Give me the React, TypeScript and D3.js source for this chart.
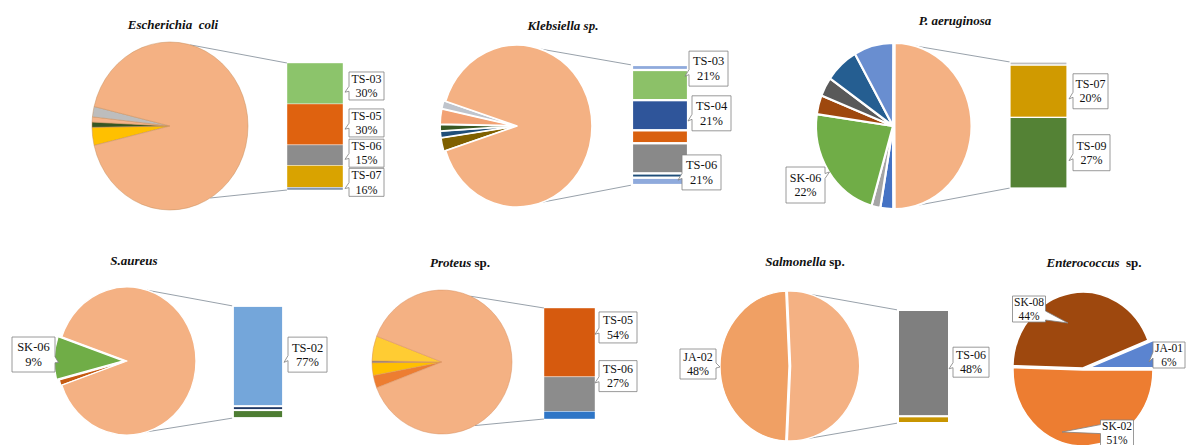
import React, { useEffect } from 'react';
import * as d3 from 'd3';

// ---------------- DATA ----------------
// Escherichia coli (pie slices listed clockwise from lower-left; bar top to bottom)
const ecoliOtherNames = ['', '', '', ''];
const ecoliOtherValues = [3.5, 1, 1, 2];
const ecoliBarNames = ['TS-03', 'TS-05', 'TS-06', 'TS-07', ''];
const ecoliBarValues = [30, 30, 15, 16, 2];

// Klebsiella sp.
const klebOtherNames = ['', '', '', '', ''];
const klebOtherValues = [2.5, 1.2, 1.2, 2.8, 1.5];
const klebBarNames = ['', 'TS-03', 'TS-04', '', 'TS-06', '', ''];
const klebBarValues = [3.5, 21, 21, 9, 21, 3, 5];

// P. aeruginosa
const paerOtherNames = ['', '', 'SK-06', '', '', '', ''];
const paerOtherValues = [2.6, 1.8, 22, 3.6, 3.6, 6.8, 8];
const paerBarNames = ['', 'TS-07', 'TS-09'];
const paerBarValues = [1.2, 20, 27];

// S. aureus
const saurOtherNames = ['', 'SK-06'];
const saurOtherValues = [1.2, 9];
const saurBarNames = ['TS-02', '', ''];
const saurBarValues = [77, 3, 6];

// Proteus sp.
const protOtherNames = ['', '', '', ''];
const protOtherValues = [2.8, 2.8, 0.4, 5.5];
const protBarNames = ['TS-05', 'TS-06', ''];
const protBarValues = [54, 27, 6];

// Salmonella sp.
const salmOtherNames = ['JA-02'];
const salmOtherValues = [48];
const salmBarNames = ['TS-06', ''];
const salmBarValues = [48, 3];

// Enterococcus sp.
const entNames = ['JA-01', 'SK-02', 'SK-08'];
const entValues = [6, 51, 44];

// ---------------- STYLES ----------------
const PEACH = '#F4B183';
const ecoliOtherColors = ['#FFC000', '#375623', '#F5B48A', '#BDBDBD'];
const ecoliBarColors = ['#8CC46B', '#DF620F', '#8C8C8C', '#D9A300', '#8497B0'];
const klebOtherColors = ['#7F6000', '#1F4E79', '#385723', '#F2A274', '#BFC4CC'];
const klebBarColors = ['#8FAADC', '#8CC168', '#2F559A', '#D9600F', '#898989', '#1F4E79', '#8FAADC'];
const paerOtherColors = ['#4472C4', '#A5A5A5', '#70AD47', '#9E480E', '#595959', '#255E91', '#698ED0'];
const paerBarColors = ['#BFBFBF', '#D09A00', '#548235'];
const saurOtherColors = ['#C55A11', '#70AD47'];
const saurBarColors = ['#74A6DA', '#203864', '#4E7D33'];
const protOtherColors = ['#ED7D31', '#FFC000', '#7F7F7F', '#FFCC33'];
const protBarColors = ['#D65A0E', '#8C8C8C', '#2E75C6'];
const salmOtherColors = ['#F0A064'];
const salmBarColors = ['#7F7F7F', '#C89500'];
const entColors = ['#5B84D0', '#ED7D31', '#9E480E'];

const SERIF = '"Liberation Serif", "Times New Roman", "DejaVu Serif", serif';

// ---------------- HELPERS ----------------
type Side = 'left' | 'right';

function calloutPath(x: number, y: number, w: number, h: number, side: Side, tx: number, ty: number, bp: number, bw: number) {
  const b0 = y + h * bp - bw / 2;
  const b1 = y + h * bp + bw / 2;
  if (side === 'left') {
    return `M${x},${y}H${x + w}V${y + h}H${x}V${b1}L${tx},${ty}L${x},${b0}Z`;
  }
  return `M${x},${y}H${x + w}V${b0}L${tx},${ty}L${x + w},${b1}V${y + h}H${x}Z`;
}

function Callout(props: {
  cx: number; cy: number; w: number; h: number; lines: string[]; fs: number;
  side: Side; tdx: number; tdy: number; bp: number; bw: number;
}) {
  const { cx, cy, w, h, lines, fs, side, tdx, tdy, bp, bw } = props;
  const x = cx - w / 2;
  const y = cy - h / 2;
  const d = calloutPath(x, y, w, h, side, cx + tdx, cy + tdy, bp, bw);
  const lh = fs * 1.18;
  return (
    <g>
      <path d={d} fill="#ffffff" stroke="#808080" strokeWidth={0.8} />
      {lines.map((t, i) => (
        <text key={i} x={cx} y={cy + (i - (lines.length - 1) / 2) * lh + fs * 0.34}
          textAnchor="middle" style={{ fontFamily: SERIF, fontSize: fs }} fill="#111">{t}</text>
      ))}
    </g>
  );
}

function Title({ x, y, parts }: { x: number; y: number; parts: [string, boolean][] }) {
  return (
    <text x={x} y={y} textAnchor="middle" fill="#111"
      style={{ fontFamily: SERIF, fontWeight: 'bold', fontSize: 13, whiteSpace: 'pre' }}>
      {parts.map(([t, it], i) => (
        <tspan key={i} style={{ fontStyle: it ? 'italic' : 'normal' }}>{t}</tspan>
      ))}
    </text>
  );
}

type PieLabel = { index: number; dx: number; dy: number; w: number; h: number; side: Side; tdx: number; tdy: number; bp: number; bw: number };
type BarLabel = { index: number; dx: number; dy: number; w: number; h: number };

type PoB = {
  title: [string, boolean][]; tx: number; ty: number;
  cx: number; cy: number; rx: number; ry: number;
  otherNames: string[]; otherValues: number[]; otherColors: string[]; otherExplode: number[];
  mainExplode: number;
  sliceStroke: string; sliceStrokeW: number;
  pieLabels: PieLabel[];
  barNames: string[]; barValues: number[]; barColors: string[];
  bx: number; bw: number; by0: number; by1: number; barStroke: string; barStrokeW: number;
  barLabels: BarLabel[];
  lineAngles: [number, number];
  fs: number;
};

type Item = { v: number; color: string; explode: number };

function PieOfBar({ p }: { p: PoB }) {
  const othersSum = d3.sum(p.otherValues);
  const mainValue = d3.sum(p.barValues);
  const total = othersSum + mainValue;
  const S = (othersSum / total) * 2 * Math.PI;
  const start = 1.5 * Math.PI - S / 2;
  const items: Item[] = [
    ...p.otherValues.map((v, i) => ({ v, color: p.otherColors[i], explode: p.otherExplode[i] || 0 })),
    { v: mainValue, color: PEACH, explode: p.mainExplode },
  ];
  const arcs = d3.pie<Item>().value((d) => d.v).sort(null).startAngle(start).endAngle(start + 2 * Math.PI)(items);
  const arcGen = d3.arc<d3.PieArcDatum<Item>>().innerRadius(0).outerRadius(p.ry);
  const k = p.rx / p.ry;

  const yScale = d3.scaleLinear().domain([0, mainValue]).range([p.by0, p.by1]);
  let acc = 0;
  const segs = p.barValues.map((v, i) => {
    const s = { y0: yScale(acc), y1: yScale(acc + v), color: p.barColors[i] };
    acc += v;
    return s;
  });

  const mainArc = arcs[arcs.length - 1];
  const mainMid = (mainArc.startAngle + mainArc.endAngle) / 2;
  const mox = p.mainExplode * Math.sin(mainMid) * k;
  const moy = -p.mainExplode * Math.cos(mainMid);
  const pt = (deg: number) => {
    const a = (deg * Math.PI) / 180;
    return [p.cx + p.rx * Math.sin(a) + mox, p.cy - p.ry * Math.cos(a) + moy];
  };
  const [t1, t2] = [pt(p.lineAngles[0]), pt(p.lineAngles[1])];

  return (
    <g>
      <Title x={p.tx} y={p.ty} parts={p.title} />
      <line x1={t1[0]} y1={t1[1]} x2={p.bx} y2={p.by0} stroke="#8c96a0" strokeWidth={0.9} />
      <line x1={t2[0]} y1={t2[1]} x2={p.bx} y2={p.by1} stroke="#8c96a0" strokeWidth={0.9} />
      <g transform={`translate(${p.cx},${p.cy}) scale(${k},1)`}>
        {arcs.map((a, i) => {
          const mid = (a.startAngle + a.endAngle) / 2;
          const e = a.data.explode;
          return (
            <path key={i} d={arcGen(a) || ''} fill={a.data.color}
              transform={`translate(${e * Math.sin(mid)},${-e * Math.cos(mid)})`}
              stroke={p.sliceStroke} strokeWidth={p.sliceStrokeW} vectorEffect="non-scaling-stroke"
              strokeLinejoin="round" />
          );
        })}
      </g>
      {segs.map((s, i) => (
        <rect key={i} x={p.bx} y={s.y0} width={p.bw} height={Math.max(0, s.y1 - s.y0)} fill={s.color}
          stroke={p.barStroke} strokeWidth={p.barStrokeW} />
      ))}
      {p.barLabels.map((l, i) => {
        const s = segs[l.index];
        const cy = (s.y0 + s.y1) / 2 + l.dy;
        const cx = p.bx + p.bw + l.dx + l.w / 2;
        return (
          <Callout key={i} cx={cx} cy={cy} w={l.w} h={l.h} fs={p.fs}
            lines={[p.barNames[l.index], `${p.barValues[l.index]}%`]}
            side="left" tdx={-l.w / 2 - 4} tdy={l.h * 0.22} bp={0.6} bw={5} />
        );
      })}
      {p.pieLabels.map((l, i) => (
        <Callout key={i} cx={p.cx + l.dx} cy={p.cy + l.dy} w={l.w} h={l.h} fs={p.fs}
          lines={[p.otherNames[l.index], `${p.otherValues[l.index]}%`]}
          side={l.side} tdx={l.tdx} tdy={l.tdy} bp={l.bp} bw={l.bw} />
      ))}
    </g>
  );
}

// ---------------- LAYOUT ----------------
const panels: PoB[] = [
  {
    title: [['Escherichia  coli', true]], tx: 173, ty: 29,
    cx: 170, cy: 126, rx: 78, ry: 84,
    otherNames: ecoliOtherNames, otherValues: ecoliOtherValues, otherColors: ecoliOtherColors, otherExplode: [0, 0, 0, 0],
    mainExplode: 0, sliceStroke: '#c8905f', sliceStrokeW: 0.5, pieLabels: [],
    barNames: ecoliBarNames, barValues: ecoliBarValues, barColors: ecoliBarColors,
    bx: 287, bw: 56, by0: 63, by1: 190, barStroke: '#ffffff', barStrokeW: 0.4,
    barLabels: [
      { index: 0, dx: 6, dy: 2.5, w: 35, h: 28 },
      { index: 1, dx: 6, dy: -1.5, w: 35, h: 28 },
      { index: 2, dx: 6, dy: -2, w: 35, h: 28 },
      { index: 3, dx: 6, dy: 6, w: 35, h: 28 },
    ],
    lineAngles: [15, 149], fs: 12,
  },
  {
    title: [['Klebsiella sp.', true]], tx: 563, ty: 30,
    cx: 517, cy: 126, rx: 75, ry: 81,
    otherNames: klebOtherNames, otherValues: klebOtherValues, otherColors: klebOtherColors, otherExplode: [2, 2, 2, 2, 2],
    mainExplode: 0, sliceStroke: '#ffffff', sliceStrokeW: 1.6, pieLabels: [],
    barNames: klebBarNames, barValues: klebBarValues, barColors: klebBarColors,
    bx: 632, bw: 56, by0: 65, by1: 185, barStroke: '#ffffff', barStrokeW: 2.2,
    barLabels: [
      { index: 1, dx: 1, dy: -16.5, w: 39, h: 35 },
      { index: 2, dx: 4, dy: -2, w: 39, h: 35 },
      { index: 4, dx: -6, dy: 14, w: 39, h: 35 },
    ],
    lineAngles: [18, 160], fs: 12.5,
  },
  {
    title: [['P. aeruginosa', true]], tx: 955, ty: 25,
    cx: 893, cy: 126, rx: 77, ry: 83,
    otherNames: paerOtherNames, otherValues: paerOtherValues, otherColors: paerOtherColors, otherExplode: [0, 0, 0, 0, 0, 0, 0],
    mainExplode: 1.5, sliceStroke: '#ffffff', sliceStrokeW: 2.2,
    pieLabels: [{ index: 2, dx: -87.5, dy: 59, w: 39, h: 36, side: 'right', tdx: 24, tdy: -13, bp: 0.25, bw: 5 }],
    barNames: paerBarNames, barValues: paerBarValues, barColors: paerBarColors,
    bx: 1010, bw: 57, by0: 62, by1: 188, barStroke: '#ffffff', barStrokeW: 1.2,
    barLabels: [
      { index: 1, dx: 6, dy: 0, w: 35, h: 35 },
      { index: 2, dx: 6, dy: 0, w: 37, h: 36 },
    ],
    lineAngles: [3, 177], fs: 12,
  },
  {
    title: [['S.aureus', true]], tx: 134, ty: 265,
    cx: 127, cy: 361, rx: 69, ry: 74,
    otherNames: saurOtherNames, otherValues: saurOtherValues, otherColors: saurOtherColors, otherExplode: [1, 4],
    mainExplode: 0, sliceStroke: '#ffffff', sliceStrokeW: 1.3,
    pieLabels: [{ index: 1, dx: -93.5, dy: -6.5, w: 43, h: 35, side: 'right', tdx: 25, tdy: 8, bp: 0.65, bw: 6 }],
    barNames: saurBarNames, barValues: saurBarValues, barColors: saurBarColors,
    bx: 233, bw: 50, by0: 306, by1: 418, barStroke: '#ffffff', barStrokeW: 1.8,
    barLabels: [{ index: 0, dx: 5, dy: -1.5, w: 39, h: 35 }],
    lineAngles: [17, 163], fs: 12.5,
  },
  {
    title: [['Proteus', true], [' sp.', false]], tx: 460, ty: 267,
    cx: 442, cy: 362, rx: 70, ry: 72,
    otherNames: protOtherNames, otherValues: protOtherValues, otherColors: protOtherColors, otherExplode: [0, 0, 0, 0],
    mainExplode: 0, sliceStroke: '#d89060', sliceStrokeW: 0.5, pieLabels: [],
    barNames: protBarNames, barValues: protBarValues, barColors: protBarColors,
    bx: 544, bw: 51, by0: 308, by1: 419, barStroke: '#ffffff', barStrokeW: 0.4,
    barLabels: [
      { index: 0, dx: 4, dy: -15, w: 38, h: 31 },
      { index: 1, dx: 4, dy: -18, w: 38, h: 31 },
    ],
    lineAngles: [24, 152], fs: 12,
  },
  {
    title: [['Salmonella', true], [' sp.', false]], tx: 805, ty: 266,
    cx: 789, cy: 366, rx: 69, ry: 75,
    otherNames: salmOtherNames, otherValues: salmOtherValues, otherColors: salmOtherColors, otherExplode: [0],
    mainExplode: 1.8, sliceStroke: '#ffffff', sliceStrokeW: 1.3,
    pieLabels: [{ index: 0, dx: -91, dy: -2, w: 36, h: 30, side: 'right', tdx: 22, tdy: 3, bp: 0.55, bw: 5 }],
    barNames: salmBarNames, barValues: salmBarValues, barColors: salmBarColors,
    bx: 898, bw: 51, by0: 310, by1: 423, barStroke: '#ffffff', barStrokeW: 2,
    barLabels: [{ index: 0, dx: 4, dy: -1, w: 36, h: 30 }],
    lineAngles: [18, 165], fs: 12,
  },
];

// Enterococcus layout
const ent = { tx: 1094, ty: 267, cx: 1083, cy: 369, rx: 70, ry: 76, explode: [6, 1, 1] };
const entLabels = [
  { index: 0, dx: 86, dy: -14, w: 32, h: 26, side: 'left' as Side, tdx: -20, tdy: 7, bp: 0.5, bw: 6 },
  { index: 1, dx: 34, dy: 64, w: 33, h: 26, side: 'left' as Side, tdx: -55, tdy: -1, bp: 0.35, bw: 9 },
  { index: 2, dx: -54, dy: -60, w: 33, h: 26, side: 'right' as Side, tdx: 39, tdy: 14, bp: 0.75, bw: 9 },
];

function EnterococcusPie() {
  const total = d3.sum(entValues);
  const start = Math.PI / 2 - (entValues[0] / total) * 2 * Math.PI;
  const items = entValues.map((v, i) => ({ v, color: entColors[i], explode: ent.explode[i] }));
  const arcs = d3.pie<Item>().value((d) => d.v).sort(null).startAngle(start).endAngle(start + 2 * Math.PI)(items);
  const arcGen = d3.arc<d3.PieArcDatum<Item>>().innerRadius(0).outerRadius(ent.ry);
  const k = ent.rx / ent.ry;
  return (
    <g>
      <Title x={ent.tx} y={ent.ty} parts={[['Enterococcus', true], ['  sp.', false]]} />
      <g transform={`translate(${ent.cx},${ent.cy}) scale(${k},1)`}>
        {arcs.map((a, i) => {
          const mid = (a.startAngle + a.endAngle) / 2;
          const e = a.data.explode;
          return (
            <path key={i} d={arcGen(a) || ''} fill={a.data.color}
              transform={`translate(${e * Math.sin(mid)},${-e * Math.cos(mid)})`}
              stroke="#ffffff" strokeWidth={1.6} vectorEffect="non-scaling-stroke" />
          );
        })}
      </g>
      {entLabels.map((l, i) => (
        <Callout key={i} cx={ent.cx + l.dx} cy={ent.cy + l.dy} w={l.w} h={l.h} fs={11.5}
          lines={[entNames[l.index], `${entValues[l.index]}%`]}
          side={l.side} tdx={l.tdx} tdy={l.tdy} bp={l.bp} bw={l.bw} />
      ))}
    </g>
  );
}

export default function App() {
  useEffect(() => {
    document.body.style.margin = '0';
  }, []);
  return (
    <svg width={1187} height={445} style={{ position: 'absolute', left: 0, top: 0, background: '#ffffff' }}>
      <rect x={0} y={0} width={1187} height={445} fill="#ffffff" />
      {panels.map((p, i) => <PieOfBar key={i} p={p} />)}
      <EnterococcusPie />
    </svg>
  );
}
